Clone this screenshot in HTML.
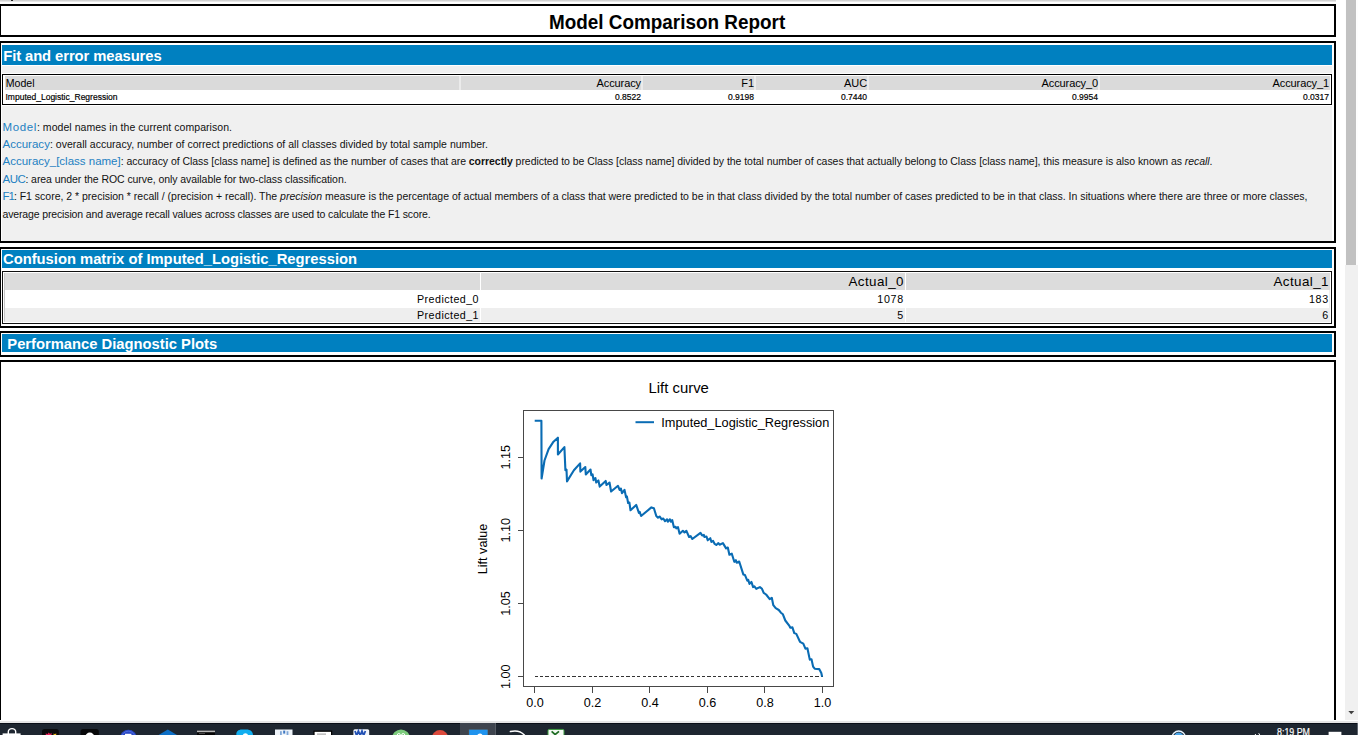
<!DOCTYPE html>
<html>
<head>
<meta charset="utf-8">
<title>Model Comparison Report</title>
<style>
html,body{margin:0;padding:0;}
body{width:1358px;height:735px;overflow:hidden;background:#fff;position:relative;font-family:"Liberation Sans",sans-serif;color:#000;}
.abs{position:absolute;}
.box{position:absolute;border:2px solid #000;box-sizing:border-box;background:#fff;}
.hdr{position:absolute;background:#0080c0;color:#fff;font-weight:bold;white-space:nowrap;overflow:hidden;}
.t{position:absolute;white-space:nowrap;}
.lbl{color:#2380c2;}
.d{font-size:10.5px;line-height:16px;color:#111;}
.d .lbl{font-size:11.5px;}
.cell{position:absolute;box-sizing:border-box;white-space:nowrap;text-align:right;}
</style>
</head>
<body>
<!-- top strip -->
<div class="abs" style="left:0;top:0;width:1336px;height:2.4px;background:linear-gradient(#cacaca,#dcdcdc 60%,#fafafa);"></div>
<div class="abs" style="left:11px;top:0;width:2px;height:1px;background:#222;"></div>

<!-- title box -->
<div class="box" style="left:-1px;top:4px;width:1336.7px;height:33px;"></div>
<div class="t" id="title" style="left:549.4px;top:9.6px;font-size:20.2px;font-weight:bold;line-height:24px;transform-origin:0 0;transform:scaleX(0.936);">Model Comparison Report</div>

<!-- panel 1 -->
<div class="box" style="left:-1px;top:41px;width:1336.7px;height:202px;"></div>
<div class="abs" style="left:2px;top:66.2px;width:1330px;height:174.8px;background:#f0f0f0;"></div>
<div class="abs" style="left:2px;top:72.8px;width:1330px;height:33.2px;background:#fff;"></div>
<div class="hdr" style="left:2.2px;top:45px;width:1329.8px;height:19.6px;"></div>
<div class="t" id="h1" style="left:3.2px;top:46.8px;font-size:14.8px;font-weight:bold;color:#fff;line-height:18px;letter-spacing:-0.09px;">Fit and error measures</div>


<!-- table 1 -->
<div class="abs" style="left:2px;top:74px;width:1330px;height:31px;border:1px solid #000;box-sizing:border-box;background:#fff;"></div>
<div class="abs" style="left:5px;top:76px;width:1325px;height:14px;background:#dadada;"></div>
<div class="abs" id="sep1" style="left:459px;top:75px;width:2px;height:29px;background:rgba(255,255,255,0.45);"></div>
<div class="abs" style="left:641px;top:75px;width:2px;height:29px;background:rgba(255,255,255,0.45);"></div>
<div class="abs" style="left:754px;top:75px;width:2px;height:29px;background:rgba(255,255,255,0.45);"></div>
<div class="abs" style="left:867px;top:75px;width:2px;height:29px;background:rgba(255,255,255,0.45);"></div>
<div class="abs" style="left:1098px;top:75px;width:2px;height:29px;background:rgba(255,255,255,0.45);"></div>
<div class="t" id="th0" style="left:5.7px;top:76px;font-size:10.6px;line-height:14px;">Model</div>
<div class="cell" id="th1" style="letter-spacing:-0.1px;left:461px;top:76px;width:180px;font-size:11px;line-height:14px;">Accuracy</div>
<div class="cell" id="th2" style="letter-spacing:-0.1px;left:643px;top:76px;width:111px;font-size:11px;line-height:14px;">F1</div>
<div class="cell" id="th3" style="letter-spacing:-0.1px;left:756px;top:76px;width:111px;font-size:11px;line-height:14px;">AUC</div>
<div class="cell" id="th4" style="letter-spacing:-0.1px;left:869px;top:76px;width:229px;font-size:11px;line-height:14px;">Accuracy_0</div>
<div class="cell" id="th5" style="letter-spacing:-0.1px;left:1100px;top:76px;width:229px;font-size:11px;line-height:14px;">Accuracy_1</div>
<div class="t" id="td0" style="-webkit-text-stroke:0.18px #000;left:5.5px;top:91px;font-size:8.5px;line-height:13px;">Imputed_Logistic_Regression</div>
<div class="cell" id="td1" style="-webkit-text-stroke:0.18px #000;left:461px;top:91px;width:180px;font-size:8.5px;line-height:13px;">0.8522</div>
<div class="cell" id="td2" style="-webkit-text-stroke:0.18px #000;left:643px;top:91px;width:111px;font-size:8.5px;line-height:13px;">0.9198</div>
<div class="cell" id="td3" style="-webkit-text-stroke:0.18px #000;left:756px;top:91px;width:111px;font-size:8.5px;line-height:13px;">0.7440</div>
<div class="cell" id="td4" style="-webkit-text-stroke:0.18px #000;left:869px;top:91px;width:229px;font-size:8.5px;line-height:13px;">0.9954</div>
<div class="cell" id="td5" style="-webkit-text-stroke:0.18px #000;left:1100px;top:91px;width:229px;font-size:8.5px;line-height:13px;">0.0317</div>

<!-- description text -->
<div class="t d" id="l1" style="left:2.5px;top:118.6px;"><span class="lbl" id="l1a" style="letter-spacing:0.614px">Model</span><span id="l1b" style="letter-spacing:0.048px">: model names in the current comparison.</span></div>
<div class="t d" id="l2" style="left:2.5px;top:136px;"><span class="lbl" id="l2a" style="letter-spacing:0.013px">Accuracy</span><span id="l2b" style="letter-spacing:0.018px">: overall accuracy, number of correct predictions of all classes divided by total sample number.</span></div>
<div class="t d" id="l3" style="left:2.5px;top:153.4px;"><span class="lbl" id="l3a" style="letter-spacing:-0.002px">Accuracy_[class name]</span><span id="l3b" style="letter-spacing:-0.050px">: accuracy of Class [class name] is defined as the number of cases that are <b>correctly</b> predicted to be Class [class name] divided by the total number of cases that actually belong to Class [class name], this measure is also known as <i>recall</i>.</span></div>
<div class="t d" id="l4" style="left:2.5px;top:171px;"><span class="lbl" id="l4a" style="letter-spacing:-0.460px">AUC</span><span id="l4b" style="letter-spacing:-0.063px">: area under the ROC curve, only available for two-class classification.</span></div>
<div class="t d" id="l5" style="left:2.5px;top:188.3px;"><span class="lbl" id="l5a" style="letter-spacing:-1.011px">F1</span><span id="l5b" style="letter-spacing:-0.010px">: F1 score, 2 * precision * recall / (precision + recall). The <i>precision</i> measure is the percentage of actual members of a class that were predicted to be in that class divided by the total number of cases predicted to be in that class. In situations where there are three or more classes,</span></div>
<div class="t d" id="l6" style="left:2.5px;top:205.5px;"><span id="l6b" style="letter-spacing:-0.141px">average precision and average recall values across classes are used to calculate the F1 score.</span></div>

<!-- panel 2 -->
<div class="box" style="left:-1px;top:247px;width:1336.7px;height:81px;"></div>
<div class="hdr" style="left:2px;top:250px;width:1330px;height:18px;"></div>
<div class="t" id="h2" style="left:3px;top:249.5px;font-size:14.75px;font-weight:bold;color:#fff;line-height:18px;">Confusion matrix of Imputed_Logistic_Regression</div>


<!-- table 2 -->
<div class="abs" style="left:2px;top:271px;width:1330px;height:53px;border:1px solid #111;box-sizing:border-box;background:#fff;"></div>
<div class="abs" style="left:4px;top:273px;width:1326px;height:49px;border:1px solid #c8c8c8;border-right-color:#eee;border-bottom-color:#eee;box-sizing:border-box;"></div>
<div class="abs" style="left:5px;top:273px;width:1325px;height:17px;background:#dcdcdc;"></div>
<div class="abs" style="left:5px;top:308px;width:1325px;height:14px;background:#eeeeee;"></div>
<div class="abs" style="left:480px;top:273px;width:1.2px;height:49px;background:#fff;"></div>
<div class="abs" style="left:904.6px;top:273px;width:1.2px;height:49px;background:#fff;"></div>
<div class="cell" id="a0" style="left:482px;top:274px;width:422px;font-size:13.4px;line-height:16px;letter-spacing:0.42px;">Actual_0</div>
<div class="cell" id="a1" style="left:906px;top:274px;width:423px;font-size:13.4px;line-height:16px;letter-spacing:0.42px;">Actual_1</div>
<div class="cell" id="p0" style="left:5px;top:291px;width:474px;font-size:10.7px;line-height:16px;letter-spacing:0.45px;">Predicted_0</div>
<div class="cell" id="p1" style="left:5px;top:307px;width:474px;font-size:10.7px;line-height:16px;letter-spacing:0.45px;">Predicted_1</div>
<div class="cell" id="v00" style="left:482px;top:291px;width:422px;font-size:10.7px;line-height:16px;letter-spacing:0.75px;">1078</div>
<div class="cell" id="v01" style="left:906px;top:291px;width:423px;font-size:10.7px;line-height:16px;letter-spacing:0.75px;">183</div>
<div class="cell" id="v10" style="left:482px;top:307px;width:422px;font-size:10.7px;line-height:16px;letter-spacing:0.75px;">5</div>
<div class="cell" id="v11" style="left:906px;top:307px;width:423px;font-size:10.7px;line-height:16px;letter-spacing:0.75px;">6</div>

<!-- panel 3 -->
<div class="box" style="left:-1px;top:331px;width:1336.7px;height:25.5px;"></div>
<div class="hdr" style="left:2px;top:334px;width:1330px;height:18.4px;"></div>
<div class="t" id="h3" style="left:7.3px;top:334.5px;font-size:14.75px;font-weight:bold;color:#fff;line-height:18px;">Performance Diagnostic Plots</div>

<!-- panel 4 (plot) -->
<div class="box" style="left:-1px;top:359.7px;width:1336.7px;height:360.1px;border-bottom:none;"></div>


<!-- chart -->
<svg class="abs" style="left:0;top:0;" width="1358" height="735" viewBox="0 0 1358 735" font-family="Liberation Sans, sans-serif">
<g fill="none" stroke="#484848" stroke-width="1" shape-rendering="crispEdges">
<rect x="523.5" y="410.5" width="310" height="276"/>
<!-- x ticks -->
<path d="M534.5 686.5V692.5M592.5 686.5V692.5M649.5 686.5V692.5M707.5 686.5V692.5M764.5 686.5V692.5M822.5 686.5V692.5"/>
<!-- y ticks -->
<path d="M523.5 676.5H517.5M523.5 603.5H517.5M523.5 530.5H517.5M523.5 457.5H517.5"/>
</g>
<path d="M534.5 676.5H822.5" stroke="#333" stroke-width="1" stroke-dasharray="3.2 2.2" fill="none" shape-rendering="crispEdges"/>
<g font-size="12.6" fill="#000" text-anchor="middle">
<text x="535" y="707.3">0.0</text><text x="592.5" y="707.3">0.2</text><text x="650" y="707.3">0.4</text><text x="707.5" y="707.3">0.6</text><text x="765" y="707.3">0.8</text><text x="822.5" y="707.3">1.0</text>
<text transform="translate(510.2 676.8) rotate(-90)">1.00</text>
<text transform="translate(510.2 603.5) rotate(-90)">1.05</text>
<text transform="translate(510.2 530.3) rotate(-90)">1.10</text>
<text transform="translate(510.2 457.2) rotate(-90)">1.15</text>
<text transform="translate(486.6 549) rotate(-90)">Lift value</text>
</g>
<text id="ct" x="678.7" y="392.6" font-size="14.9" text-anchor="middle" fill="#000">Lift curve</text>
<path d="M635.5 422.2H654" stroke="#0a6cb4" stroke-width="2" fill="none"/>
<text id="lg" x="661.3" y="426.8" font-size="12.75" fill="#000">Imputed_Logistic_Regression</text>
<path id="curve" fill="none" stroke="#0a6cb4" stroke-width="2.1" stroke-linejoin="round" stroke-linecap="butt" d="M534.7 420.8 L541.4 420.8 L541.6 478.5 L544.5 460.5 L548.6 449.1 L553.5 441.7 L557.9 437.7 L557.9 454.5 L564.4 447.1 L565.4 470.3 L566.5 469.5 L567.0 481.4 L573.9 470.3 L580.1 463.4 L580.4 471.6 L585.3 467.0 L585.8 474.4 L590.5 469.5 L591.3 475.2 L592.6 474.4 L593.5 480.1 L595.4 478.0 L596.2 482.5 L598.4 480.4 L599.7 486.6 L605.7 480.9 L606.5 485.0 L609.5 482.5 L611.1 491.5 L618.0 485.8 L619.6 489.9 L620.9 488.6 L622.0 493.2 L624.5 489.9 L626.1 497.2 L626.9 496.4 L628.1 503.0 L629.4 502.6 L630.5 510.3 L636.2 504.9 L638.9 512.8 L639.7 511.9 L641.1 516.0 L651.4 507.4 L653.9 508.3 L656.3 516.0 L658.0 517.7 L659.6 516.5 L661.7 519.3 L663.3 518.5 L665.0 521.2 L667.0 519.3 L667.8 521.7 L669.9 519.3 L671.0 521.7 L672.2 520.1 L673.9 527.2 L675.5 526.7 L676.3 528.4 L678.0 527.2 L679.6 533.8 L682.9 530.8 L684.5 532.4 L686.4 530.8 L689.1 537.0 L690.7 536.2 L692.3 539.0 L700.5 532.9 L702.1 535.4 L703.8 534.9 L704.4 537.0 L706.5 536.5 L707.7 540.3 L710.3 538.2 L711.4 541.9 L713.1 540.9 L714.7 543.9 L716.3 545.0 L718.4 543.1 L719.6 544.7 L722.9 543.1 L726.1 548.4 L727.8 547.5 L729.4 554.8 L731.8 553.7 L734.3 561.8 L735.9 560.2 L736.7 562.7 L739.2 561.5 L743.3 574.4 L744.9 574.9 L747.3 580.6 L748.2 579.8 L749.5 583.9 L751.4 581.9 L753.1 587.1 L754.4 586.3 L756.3 588.8 L759.9 587.1 L762.0 588.8 L763.7 592.9 L766.1 594.5 L769.7 599.1 L771.8 597.8 L773.3 605.2 L775.7 608.2 L778.8 610.0 L780.9 612.7 L782.9 614.3 L785.3 620.5 L789.4 625.8 L790.2 627.7 L792.4 627.4 L794.3 633.1 L796.3 633.9 L800.0 641.8 L803.3 643.7 L805.4 648.6 L807.4 648.3 L809.8 659.6 L811.5 659.2 L813.1 666.6 L814.7 668.7 L819.2 669.1 L821.3 673.1 L822.1 676.7"/>
</svg>

<!-- scrollbar -->
<div class="abs" style="left:1344.7px;top:0;width:13.3px;height:719.8px;background:#f0f0f0;"></div>
<div class="abs" style="left:1344.7px;top:0;width:13.3px;height:265.2px;background:#fdfdfd;"></div>
<div class="abs" style="left:1346.2px;top:0;width:9.8px;height:264.7px;background:#c1c1c1;"></div>
<svg class="abs" style="left:1347px;top:710px;" width="9" height="5" viewBox="0 0 9 5"><path d="M1.3 1H7.3L4.3 4.2Z" fill="#404040"/></svg>

<!-- taskbar -->
<div class="abs" style="left:0;top:721.3px;width:1358px;height:1.4px;background:#e6e6e6;"></div>
<div class="abs" id="tb" style="left:0;top:722.6px;width:1358px;height:12.4px;background:#1e2630;overflow:hidden;">
<div class="abs" style="left:0;top:0;width:1358px;height:1px;background:#0a0f18;"></div>
<div class="abs" style="left:460px;top:0;width:34.5px;height:13px;background:#3e444e;"></div>
<div class="abs" style="left:494.5px;top:0;width:1.5px;height:13px;background:#555b64;"></div>
<div class="abs" style="left:1356.6px;top:0;width:1.4px;height:13px;background:#5e656f;"></div>
</div>
<svg class="abs" style="left:0;top:722px;" width="1358" height="13" viewBox="0 722 1358 13" font-family="Liberation Sans, sans-serif">
<!-- store bag -->
<path d="M8.3 735V731.8a3.7 3.2 0 0 1 7.4 0V735" fill="none" stroke="#fff" stroke-width="1.4"/>
<rect x="2.6" y="733.4" width="18" height="3" fill="#fff"/>
<!-- dark app w/ pink -->
<rect x="42" y="729" width="16.8" height="10" rx="2.5" fill="#0a0a0c"/>
<path d="M45.8 735V733.2l1.6 1 1.3-1.6 1.4 1.4 1.4-1.2V735Z" fill="#e8205a"/>
<path d="M53.6 735V733.4l1.3 .8 1.3-1V735Z" fill="#f4c020"/>
<!-- black app w/ white circle -->
<rect x="80.6" y="729" width="18.2" height="10" rx="2.5" fill="#08080a"/>
<circle cx="89.8" cy="737.2" r="4.6" fill="#fff"/>
<!-- blue circle -->
<circle cx="128.4" cy="738.2" r="8.4" fill="#2a48c4"/>
<circle cx="128.4" cy="738.2" r="7" fill="none" stroke="#4c6ae0" stroke-width="1"/>
<rect x="125" y="733.8" width="6.4" height="2" fill="#fff"/>
<!-- blue diamond -->
<path d="M158.6 735L167.8 729.4L177 735Z" fill="#0d6fc6"/>
<!-- terminal -->
<rect x="197" y="730.6" width="18" height="6" fill="#050505"/>
<rect x="197" y="730.6" width="18" height="1.6" fill="#b8b8b8"/>
<rect x="199" y="733.2" width="6" height="0.8" fill="#555"/>
<!-- skype -->
<path d="M236.4 735c-0.6-3.4 2.2-5.6 5.6-5.5h4c4-0.2 7 2 7 5.5Z" fill="#10aef0"/>
<circle cx="245.4" cy="736" r="2.7" fill="#fff"/>
<!-- light square icon -->
<rect x="275" y="729.5" width="17.5" height="7" fill="#eef3f9"/>
<rect x="280" y="731.2" width="1.8" height="3.8" fill="#7fa6d6"/><rect x="283.2" y="730.6" width="2" height="3" fill="#3f78c2"/><rect x="286.6" y="731.2" width="1.8" height="3.8" fill="#7fa6d6"/>
<!-- white window -->
<rect x="314" y="731.2" width="17.6" height="6" fill="#fff" stroke="#000" stroke-width="1.2"/>
<rect x="317" y="733.6" width="9" height="1" fill="#999"/>
<!-- word -->
<rect x="353.4" y="729.2" width="15.8" height="8" rx="1.5" fill="#f2f5fb"/>
<path d="M355 731l1.6 4.5 1.8-4.5 1.8 4.5 1.8-4.5 1.6 4.5 1.8-4.5" fill="none" stroke="#2351b4" stroke-width="1.8"/>
<!-- green circle -->
<circle cx="401" cy="738.4" r="9" fill="#7ccb7c"/>
<circle cx="398.8" cy="735" r="1.5" fill="none" stroke="#fff" stroke-width="1"/><circle cx="403.2" cy="735" r="1.5" fill="none" stroke="#fff" stroke-width="1"/>
<!-- red circle (chrome) -->
<circle cx="440" cy="738.2" r="8.2" fill="#dc4a3c"/>
<!-- active blue app -->
<rect x="468.8" y="729.2" width="19.2" height="8" fill="#1f93ee" stroke="#5a4636" stroke-width="0.6"/>
<path d="M477.6 735v-0.6q2.6-1.6 4.6 0v0.6Z" fill="#fff"/>
<!-- swoosh -->
<path d="M510.4 731.6q8.5-2.2 14 3.4" fill="none" stroke="#fff" stroke-width="1.5" stroke-linecap="round"/>
<!-- excel -->
<rect x="548" y="729.4" width="16" height="8" rx="1.2" fill="#f4faf4" stroke="#3a9a3c" stroke-width="1"/>
<path d="M551.6 731.4l4 3.6M559 731.4l-4.4 3.6" stroke="#1d6b22" stroke-width="1.7" fill="none"/>
<!-- tray circle -->
<circle cx="1178.7" cy="737.6" r="6.6" fill="none" stroke="#e8f4ff" stroke-width="1.4"/>
<circle cx="1178.7" cy="737.6" r="5" fill="#4aa6ea"/>
<!-- volume marks -->
<path d="M1255.4 735v-1M1259.6 735q-0.2-1.2-1-1.8" stroke="#fff" stroke-width="1" fill="none"/>
<!-- clock -->
<text x="1277" y="736.4" font-size="11.8" fill="#fff" stroke="#fff" stroke-width="0.2" textLength="33" lengthAdjust="spacingAndGlyphs">8:19 PM</text>
<!-- notif -->
<rect x="1328.6" y="731.8" width="12.8" height="5" fill="#fff"/>
</svg>
</body>
</html>
